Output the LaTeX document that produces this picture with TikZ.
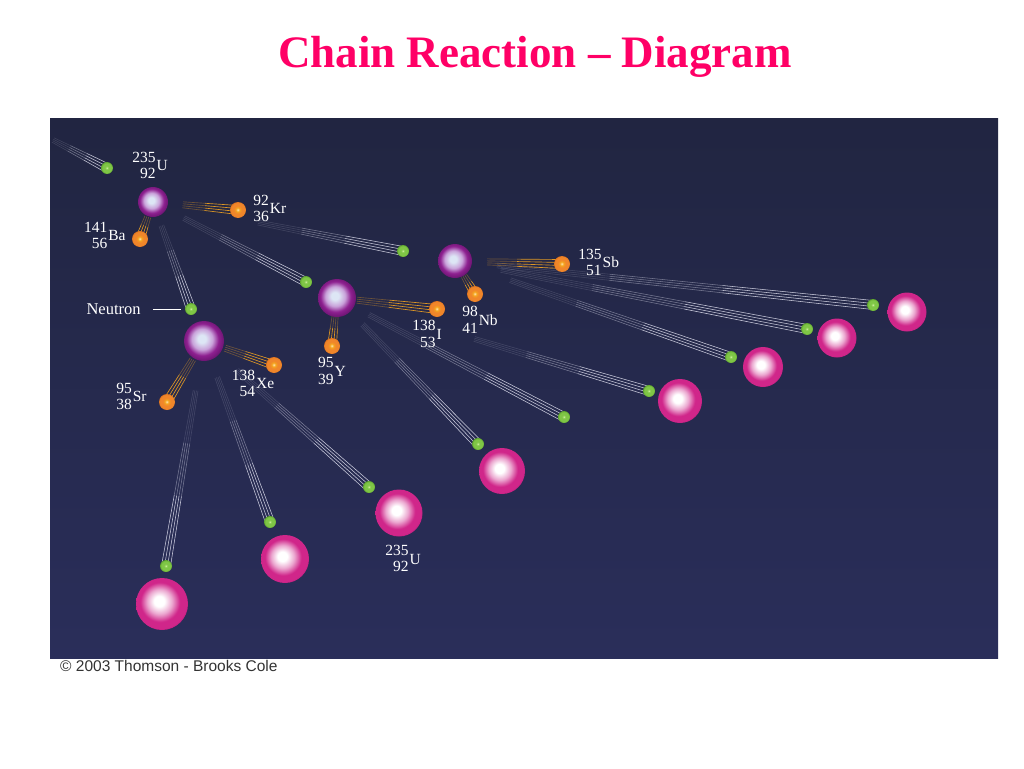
\documentclass[tikz,border=0pt]{standalone}
\usepackage{fontspec}
\setmainfont{Liberation Serif}
\newfontfamily\capfont{Liberation Sans}
\usetikzlibrary{positioning, calc}
\pgfdeclarelayer{back}
\pgfdeclarelayer{trails}
\pgfsetlayers{back,trails,main}
\definecolor{titleColor}{HTML}{FF0066}
\definecolor{panelTop}{HTML}{212541}
\definecolor{panelBot}{HTML}{2A2E5A}
\definecolor{pinkRim}{HTML}{D0268A}
\definecolor{pinkMid}{HTML}{EBA6CF}
\definecolor{pinkDark}{HTML}{A3136E}
\definecolor{purpleCore}{HTML}{DDE6F5}
\definecolor{purpleMid}{HTML}{C9A2DA}
\definecolor{purpleRim}{HTML}{8E2090}
\definecolor{purpleDark}{HTML}{5E1066}
\definecolor{neutronColor}{HTML}{7FC646}
\definecolor{neutronLight}{HTML}{DAF6AA}
\definecolor{neutronDark}{HTML}{4A9020}
\definecolor{fragColor}{HTML}{F0862A}
\definecolor{fragLight}{HTML}{FFE8C4}
\definecolor{fragDark}{HTML}{C45A12}
\colorlet{trailColor}{white!95!blue}
\colorlet{creditColor}{black!80}
\pgfdeclareradialshading{targetBall}{\pgfpoint{-3bp}{3bp}}{color(0bp)=(white); color(5bp)=(white); color(12bp)=(pinkMid); color(19bp)=(pinkRim); color(25bp)=(pinkRim); color(29bp)=(pinkDark); color(50bp)=(pinkDark)}
\pgfdeclareradialshading{fissionBall}{\pgfpoint{-3bp}{3bp}}{color(0bp)=(purpleCore); color(5bp)=(purpleCore); color(13bp)=(purpleMid); color(20bp)=(purpleRim); color(29bp)=(purpleDark); color(50bp)=(purpleDark)}
\pgfdeclareradialshading{neutronBall}{\pgfpoint{-1bp}{1bp}}{color(0bp)=(neutronLight); color(6bp)=(neutronColor); color(20bp)=(neutronColor); color(28bp)=(neutronDark); color(50bp)=(neutronDark)}
\pgfdeclareradialshading{fragBall}{\pgfpoint{-1bp}{1bp}}{color(0bp)=(fragLight); color(5bp)=(fragColor!70!yellow); color(12bp)=(fragColor); color(22bp)=(fragColor); color(29bp)=(fragDark); color(50bp)=(fragDark)}
\newcommand{\isofont}{\fontsize{15.5}{16.5}\selectfont}
\newcommand{\nuc}[3]{\begin{tabular}{@{}r@{}}#1\\#2\end{tabular}\kern1pt#3}
\tikzstyle{target}=[circle, inner sep=0pt, shading=targetBall]
\tikzstyle{fission}=[circle, inner sep=0pt, shading=fissionBall]
\tikzstyle{neutron}=[circle, inner sep=0pt, minimum size=12pt, shading=neutronBall]
\tikzstyle{frag}=[circle, inner sep=0pt, minimum size=16pt, shading=fragBall]
\tikzstyle{iso}=[text=white, inner sep=0pt, font=\isofont]
\tikzstyle{ntrail}=[draw=trailColor, line width=0.55pt]
\tikzstyle{ftrail}=[draw=fragColor!75!yellow, line width=0.65pt]
\tikzstyle{pointer}=[draw=white, line width=0.9pt]

\begin{document}
\begin{tikzpicture}[x=1pt, y=-1pt]
  \useasboundingbox (0,0) rectangle (1024,768);
  \begin{pgfonlayer}{back}
    \fill[top color=panelTop, bottom color=panelBot] (50,118) rectangle (998,658);
  \end{pgfonlayer}
  \node (title) [anchor=base, inner sep=0pt, text=titleColor, font=\bfseries\fontsize{45}{54}\selectfont] at (535,67) {Chain Reaction – Diagram};
  \node (credit) [anchor=base west, inner sep=0pt, text=creditColor, font=\capfont\fontsize{15.5}{18}\selectfont] at (60,671) {© 2003 Thomson - Brooks Cole};

  \coordinate (src) at (53,140);
  \node (u1) [fission, minimum size=30pt] at (153,202) {};
  \node (u2) [fission, minimum size=40pt] at (204,341) {};
  \node (u3) [fission, minimum size=38pt] at (337,298) {};
  \node (u4) [fission, minimum size=34pt] at (455,261) {};
  \node (t1) [target, minimum size=52pt] at (162,604) {};
  \node (t2) [target, minimum size=48pt] at (285,559) {};
  \node (t3) [target, minimum size=47pt] at (399,513) {};
  \node (t4) [target, minimum size=46pt] at (502,471) {};
  \node (t5) [target, minimum size=44pt] at (680,401) {};
  \node (t6) [target, minimum size=40pt] at (763,367) {};
  \node (t7) [target, minimum size=39pt] at (837,338) {};
  \node (t8) [target, minimum size=39pt] at (907,312) {};

  \node (n0) [neutron] at (107,168) {};
  \node (n1) [neutron] at (191,309) {};
  \node (n2) [neutron] at (306,282) {};
  \node (n3) [neutron] at (403,251) {};
  \node (n4) [neutron] at (166,566) {};
  \node (n5) [neutron] at (270,522) {};
  \node (n6) [neutron] at (369,487) {};
  \node (n7) [neutron] at (478,444) {};
  \node (n8) [neutron] at (564,417) {};
  \node (n9) [neutron] at (649,391) {};
  \node (n10) [neutron] at (731,357) {};
  \node (n11) [neutron] at (807,329) {};
  \node (n12) [neutron] at (873,305) {};

  \node (kr) [frag] at (238,210) {};
  \node (ba) [frag] at (140,239) {};
  \node (xe) [frag] at (274,365) {};
  \node (sr) [frag] at (167,402) {};
  \node (iod) [frag] at (437,309) {};
  \node (y) [frag] at (332,346) {};
  \node (sb) [frag] at (562,264) {};
  \node (nb) [frag] at (475,294) {};

  \node (u1lbl) [iso, above=3pt of u1, xshift=-3pt] {\nuc{235}{92}{U}};
  \node (krlbl) [iso, right=7pt of kr] {\nuc{92}{36}{Kr}};
  \node (balbl) [iso, left=6pt of ba, yshift=2pt] {\nuc{141}{56}{Ba}};
  \node (srlbl) [iso, left=12pt of sr, yshift=4pt] {\nuc{95}{38}{Sr}};
  \node (xelbl) [iso] at (253,385) {\nuc{138}{54}{Xe}};
  \node (ylbl) [iso, below=2pt of y] {\nuc{95}{39}{Y}};
  \node (ilbl) [iso, below=2pt of iod, xshift=-10pt] {\nuc{138}{53}{I}};
  \node (nblbl) [iso, below=3pt of nb, xshift=5pt] {\nuc{98}{41}{Nb}};
  \node (sblbl) [iso, right=8pt of sb] {\nuc{135}{51}{Sb}};
  \node (t3lbl) [iso, below=7pt of t3, xshift=4pt] {\nuc{235}{92}{U}};
  \node (ntext) [iso, font=\fontsize{16.5}{18}\selectfont, left=44pt of n1] {Neutron};
  \draw [pointer, shorten <=12pt, shorten >=4pt] (ntext) -- (n1);

  \begin{pgfonlayer}{trails}
    \foreach \p/\q/\f in {src/n0/0, u1/n1/0.22, u1/n2/0.2, u1/n3/0.42,
        u2/n4/0.22, u2/n5/0.2, u2/n6/0.2, u3/n7/0.18, u3/n8/0.14, u3/n9/0.44,
        u4/n10/0.2, u4/n11/0.13, u4/n12/0.1}{
      \foreach \d in {-1.5,-0.5,0.5,1.5}{
        \coordinate (a) at ($(\p)!\f!(\q)!\d*1.6pt!90:(\q)$);
        \coordinate (b) at ($(\q)!\d*3pt!-90:(\p)$);
        \foreach \s/\e/\o in {0/0.3/0.15, 0.3/0.6/0.4, 0.6/1/0.8}
          \draw [ntrail, opacity=\o] ($(a)!\s!(b)$) -- ($(a)!\e!(b)$);
      }
    }
    \foreach \p/\q/\f in {u1/kr/0.35, u1/ba/0.4, u2/xe/0.3, u2/sr/0.3,
        u3/iod/0.2, u3/y/0.38, u4/sb/0.3, u4/nb/0.45}{
      \foreach \d in {-1.5,-0.5,0.5,1.5}{
        \coordinate (a) at ($(\p)!\f!(\q)!\d*2pt!90:(\q)$);
        \coordinate (b) at ($(\q)!\d*3pt!-90:(\p)$);
        \foreach \s/\e/\o in {0/0.4/0.35, 0.4/1/0.9}
          \draw [ftrail, opacity=\o] ($(a)!\s!(b)$) -- ($(a)!\e!(b)$);
      }
    }
  \end{pgfonlayer}
\end{tikzpicture}
\end{document}
